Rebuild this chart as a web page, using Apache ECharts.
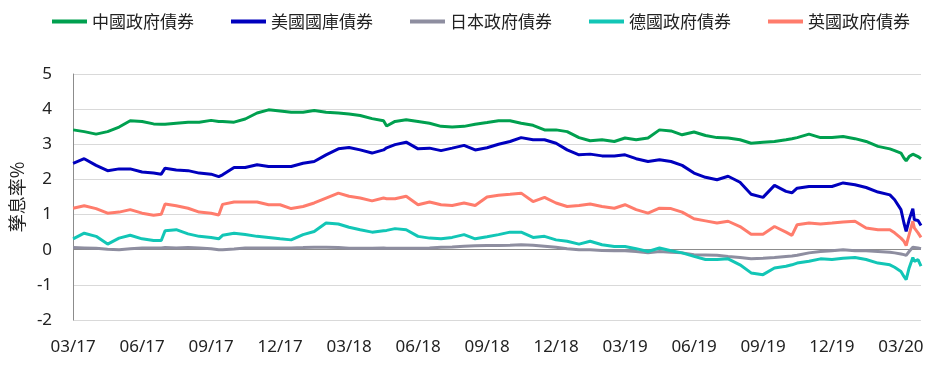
<!DOCTYPE html>
<html>
<head>
<meta charset="utf-8">
<script src="https://cdn.jsdelivr.net/npm/echarts@6/dist/echarts.min.js"></script>
<style>
html,body{margin:0;padding:0;background:#fff;}
#chart{width:935px;height:365px;}
</style>
</head>
<body>
<div id="chart"></div>
<script>
const seriesNames = ['中國政府債券','美國國庫債券','日本政府債券','德國政府債券','英國政府債券'];
const dates = ['2017-03-01','2017-03-16','2017-04-01','2017-04-16','2017-05-01','2017-05-16','2017-06-01','2017-06-16','2017-06-26','2017-07-01',
'2017-07-16','2017-08-01','2017-08-16','2017-09-01','2017-09-11','2017-09-16','2017-10-01','2017-10-16','2017-11-01','2017-11-16',
'2017-12-01','2017-12-16','2018-01-01','2018-01-16','2018-02-01','2018-02-16','2018-03-01','2018-03-16','2018-04-01','2018-04-16',
'2018-04-20','2018-05-01','2018-05-16','2018-06-01','2018-06-16','2018-07-01','2018-07-16','2018-08-01','2018-08-16','2018-09-01',
'2018-09-16','2018-10-01','2018-10-16','2018-11-01','2018-11-16','2018-12-01','2018-12-16','2019-01-01','2019-01-16','2019-02-01',
'2019-02-16','2019-03-01','2019-03-16','2019-04-01','2019-04-16','2019-05-01','2019-05-16','2019-06-01','2019-06-16','2019-07-01',
'2019-07-16','2019-08-01','2019-08-16','2019-09-01','2019-09-16','2019-10-01','2019-10-09','2019-10-16','2019-11-01','2019-11-16',
'2019-12-01','2019-12-16','2020-01-01','2020-01-16','2020-02-01','2020-02-16','2020-02-22','2020-03-01','2020-03-05','2020-03-08',
'2020-03-12','2020-03-17','2020-03-19','2020-03-24','2020-03-28'];
const china = [3.41,3.36,3.29,3.36,3.49,3.67,3.65,3.58,3.57,3.57,
3.60,3.63,3.63,3.68,3.65,3.65,3.63,3.72,3.89,3.98,
3.95,3.91,3.91,3.96,3.91,3.89,3.86,3.82,3.73,3.67,
3.52,3.65,3.70,3.65,3.60,3.51,3.49,3.51,3.57,3.62,
3.67,3.67,3.60,3.54,3.41,3.41,3.36,3.19,3.10,3.13,
3.08,3.18,3.13,3.18,3.41,3.38,3.27,3.35,3.25,3.19,
3.18,3.13,3.03,3.06,3.08,3.13,3.16,3.19,3.29,3.19,
3.19,3.22,3.16,3.08,2.94,2.87,2.82,2.75,2.61,2.53,
2.65,2.72,2.70,2.65,2.59];
const us = [2.46,2.59,2.40,2.25,2.30,2.30,2.21,2.18,2.15,2.32,
2.27,2.25,2.18,2.15,2.08,2.13,2.34,2.34,2.42,2.37,
2.37,2.37,2.46,2.51,2.70,2.87,2.91,2.84,2.75,2.84,
2.90,2.99,3.06,2.87,2.89,2.82,2.89,2.97,2.84,2.90,
3.00,3.08,3.19,3.13,3.13,3.03,2.84,2.70,2.72,2.67,
2.67,2.70,2.59,2.51,2.56,2.51,2.40,2.18,2.06,1.99,
2.09,1.92,1.58,1.49,1.83,1.66,1.62,1.75,1.80,1.80,
1.80,1.90,1.85,1.77,1.64,1.56,1.42,1.14,0.76,0.52,
0.85,1.17,0.85,0.83,0.69];
const japan = [0.06,0.05,0.04,0.01,0.00,0.03,0.05,0.05,0.05,0.06,
0.05,0.06,0.05,0.03,0.00,0.00,0.02,0.05,0.05,0.05,
0.05,0.05,0.06,0.07,0.07,0.06,0.04,0.04,0.04,0.05,
0.04,0.04,0.04,0.04,0.05,0.07,0.08,0.10,0.11,0.12,
0.12,0.13,0.14,0.13,0.10,0.07,0.03,0.00,0.00,-0.02,
-0.03,-0.03,-0.05,-0.09,-0.05,-0.07,-0.09,-0.14,-0.15,-0.16,
-0.19,-0.22,-0.26,-0.24,-0.22,-0.19,-0.18,-0.16,-0.09,-0.05,
-0.03,0.00,-0.03,-0.03,-0.05,-0.07,-0.09,-0.12,-0.14,-0.16,
-0.05,0.07,0.07,0.05,0.03];
const germany = [0.31,0.47,0.38,0.16,0.33,0.41,0.31,0.26,0.26,0.54,
0.57,0.45,0.38,0.35,0.31,0.41,0.47,0.43,0.38,0.35,
0.31,0.28,0.43,0.52,0.76,0.73,0.64,0.57,0.50,0.54,
0.55,0.60,0.57,0.38,0.33,0.31,0.35,0.43,0.31,0.37,
0.43,0.50,0.50,0.35,0.38,0.28,0.24,0.16,0.24,0.14,
0.09,0.09,0.03,-0.05,0.05,-0.03,-0.09,-0.19,-0.28,-0.28,
-0.26,-0.43,-0.66,-0.71,-0.52,-0.47,-0.43,-0.38,-0.33,-0.26,
-0.28,-0.24,-0.22,-0.28,-0.38,-0.43,-0.50,-0.62,-0.76,-0.85,
-0.52,-0.22,-0.33,-0.28,-0.47];
const uk = [1.18,1.25,1.17,1.04,1.07,1.14,1.04,0.98,1.01,1.30,
1.25,1.18,1.07,1.04,0.99,1.29,1.36,1.36,1.36,1.28,
1.28,1.17,1.23,1.33,1.47,1.61,1.52,1.47,1.39,1.47,
1.45,1.45,1.52,1.28,1.36,1.28,1.26,1.33,1.26,1.50,
1.55,1.58,1.61,1.37,1.49,1.33,1.23,1.26,1.30,1.23,
1.18,1.28,1.14,1.04,1.18,1.17,1.07,0.88,0.82,0.76,
0.81,0.66,0.44,0.44,0.66,0.50,0.41,0.71,0.76,0.73,
0.76,0.79,0.81,0.62,0.57,0.57,0.48,0.33,0.24,0.12,
0.43,0.81,0.62,0.48,0.35];
const yTicks = [-2,-1,0,1,2,3,4,5];

const colors = ['#00A04F','#0000BE','#8E8EA0','#12C6B6','#FF7C6C'];
const allValues = [china, us, japan, germany, uk];

// months since 2017-03-01
function toM(s){
  const p = s.split('-').map(Number);
  const dim = new Date(p[0], p[1], 0).getDate();
  return (p[0]-2017)*12 + (p[1]-3) + (p[2]-1)/dim;
}
const xs = dates.map(toM);
function mLabel(m){
  const total = 2 + Math.round(m);
  const mo = total % 12 + 1;
  const yr = 17 + Math.floor(total/12);
  return (mo<10?'0':'')+mo+'/'+yr;
}
const gridColors = yTicks.map(v => v === 0 ? '#8c8c8c' : '#d9d9d9');

const chart = echarts.init(document.getElementById('chart'), null, {renderer:'canvas'});
chart.setOption({
  animation:false,
  backgroundColor:'#ffffff',
  color: colors,
  legend:{
    left:47, top:8, itemWidth:35, itemHeight:4, itemGap:37, icon:'rect',
    textStyle:{fontFamily:'Noto Sans CJK TC', fontSize:17, color:'#222'},
    data: seriesNames
  },
  grid:{left:58, right:14, top:74, bottom:45, containLabel:false},
  xAxis:{
    type:'value', min:0, max:xs[xs.length-1], interval:3,
    axisLine:{show:false}, axisTick:{show:false}, splitLine:{show:false},
    axisLabel:{formatter:mLabel, showMaxLabel:false, margin:19,
      fontFamily:'Noto Sans', fontSize:17, color:'#222'}
  },
  yAxis:{
    type:'value', min:yTicks[0], max:yTicks[yTicks.length-1], interval:1,
    name:'孳息率%', nameLocation:'middle', nameGap:40, nameRotate:90,
    nameTextStyle:{fontFamily:'Noto Sans CJK TC', fontSize:18, color:'#222'},
    axisLine:{show:true, lineStyle:{color:'#8c8c8c', width:1}},
    axisTick:{show:false},
    axisLabel:{margin:21, fontFamily:'Noto Sans', fontSize:17, color:'#222'},
    splitLine:{show:true, lineStyle:{color:gridColors, width:1}}
  },
  series: seriesNames.map((n,i)=>({
    name:n, type:'line', showSymbol:false, symbol:'none',
    lineStyle:{width:3, color:colors[i]}, itemStyle:{color:colors[i]},
    data: xs.map((x,k)=>[x, allValues[i][k]])
  }))
});
</script>
</body>
</html>
